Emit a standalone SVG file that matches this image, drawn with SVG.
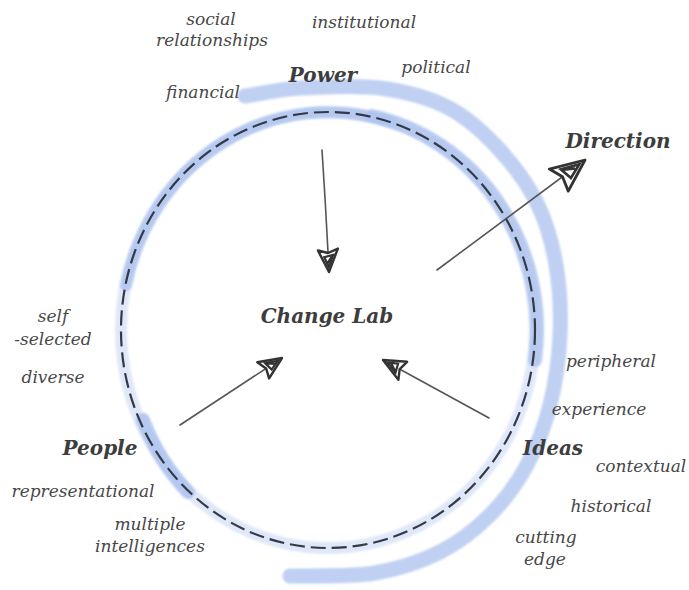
<svg xmlns="http://www.w3.org/2000/svg" width="689" height="590" viewBox="0 0 689 590">
<style>
.lbl{font-family:"DejaVu Serif","Liberation Serif",serif;font-style:italic;font-size:17px;fill:#474747;text-anchor:middle}
.key{font-family:"DejaVu Serif","Liberation Serif",serif;font-style:italic;font-weight:bold;font-size:20px;fill:#3d3d3d;text-anchor:middle}
.band{fill:none;stroke:#afc4ef;stroke-linecap:round}
.arrow{fill:none;stroke:#555;stroke-width:1.6;stroke-linecap:round}
</style>
<defs>
<filter id="soft" x="-10%" y="-10%" width="120%" height="120%">
<feGaussianBlur stdDeviation="1.3"/>
</filter>
<marker id="head" markerUnits="userSpaceOnUse" markerWidth="40" markerHeight="40" refX="0" refY="0" orient="auto" overflow="visible">
<path d="M0,0 L-23,-10 L-19,0 L-22,10 Z" fill="#fff" stroke="#333" stroke-width="2.4" stroke-linejoin="round"/>
<path d="M-5,0 L-17,-5 L-15,4 Z M-16,-4 L-9,1" fill="none" stroke="#333" stroke-width="2.2"/>
</marker>
<marker id="headL" markerUnits="userSpaceOnUse" markerWidth="60" markerHeight="60" refX="0" refY="0" orient="auto" overflow="visible">
<path d="M0,0 L-34,-14 L-28,0 L-32,15 Z" fill="#fff" stroke="#333" stroke-width="2.8" stroke-linejoin="round"/>
<path d="M-7,0 L-25,-7 L-22,6 Z M-23,-5 L-13,1" fill="none" stroke="#333" stroke-width="2.6"/>
</marker>
</defs>
<rect width="689" height="590" fill="#fff"/>
<g id="bands" filter="url(#soft)">
<path class="band" stroke-width="15" opacity="0.8" d="M245,96 C254,95 277.5,89.3 300,88 C322.5,86.7 355.5,84.8 380,88 C404.5,91.2 427.5,97.2 447,107 C466.5,116.8 482,131 497,147 C512,163 527.2,183.3 537,203 C546.8,222.7 552.2,243 556,265 C559.8,287 561,311.7 560,335 C559,358.3 555.5,383.3 550,405 C544.5,426.7 537,446.7 527,465 C517,483.3 504.5,500.5 490,515 C475.5,529.5 459.2,542.3 440,552 C420.8,561.7 398.3,569 375,573 C351.7,577 312.5,575.5 290,576"/>
<ellipse class="band" cx="328" cy="330" rx="207" ry="218" stroke-width="12" opacity="0.4"/>
<path class="band" stroke-width="12" opacity="0.85" d="M126,285 A207,218 0 0 1 390,122"/>
<path class="band" stroke-width="14" opacity="0.85" d="M372,116 A207,218 0 0 1 535,360"/>
<path class="band" stroke-width="14" opacity="0.9" stroke="#9fb7ec" d="M143,420 A207,218 0 0 0 188,492"/>
</g>
<g id="circle">
<ellipse cx="328" cy="330" rx="207" ry="218" fill="none" stroke="#333a45" stroke-width="2.2" stroke-dasharray="15 6"/>
</g>
<g id="connectors">
<path class="arrow" d="M322,150 Q326,210 329,272" marker-end="url(#head)"/>
<path class="arrow" d="M180,425 L282,358" marker-end="url(#head)"/>
<path class="arrow" d="M489,418 L383,360" marker-end="url(#head)"/>
<path class="arrow" d="M437,270 L585,160" marker-end="url(#headL)"/>
</g>
<g id="change-lab"><text class="key" x="327" y="323">Change Lab</text></g>
<g id="power">
<text class="key" x="323" y="82">Power</text>
<text class="lbl" x="211" y="25">social</text>
<text class="lbl" x="212" y="46">relationships</text>
<text class="lbl" x="364" y="28">institutional</text>
<text class="lbl" x="436" y="73">political</text>
<text class="lbl" x="203" y="98">financial</text>
</g>
<g id="direction"><text class="key" x="618" y="148">Direction</text></g>
<g id="people">
<text class="key" x="100" y="455">People</text>
<text class="lbl" x="53" y="322">self</text>
<text class="lbl" x="53" y="345">-selected</text>
<text class="lbl" x="53" y="383">diverse</text>
<text class="lbl" x="83" y="497">representational</text>
<text class="lbl" x="150" y="530">multiple</text>
<text class="lbl" x="150" y="552">intelligences</text>
</g>
<g id="ideas">
<text class="key" x="553" y="455">Ideas</text>
<text class="lbl" x="611" y="367">peripheral</text>
<text class="lbl" x="599" y="415">experience</text>
<text class="lbl" x="641" y="472">contextual</text>
<text class="lbl" x="611" y="512">historical</text>
<text class="lbl" x="546" y="543">cutting</text>
<text class="lbl" x="545" y="565">edge</text>
</g>
</svg>
